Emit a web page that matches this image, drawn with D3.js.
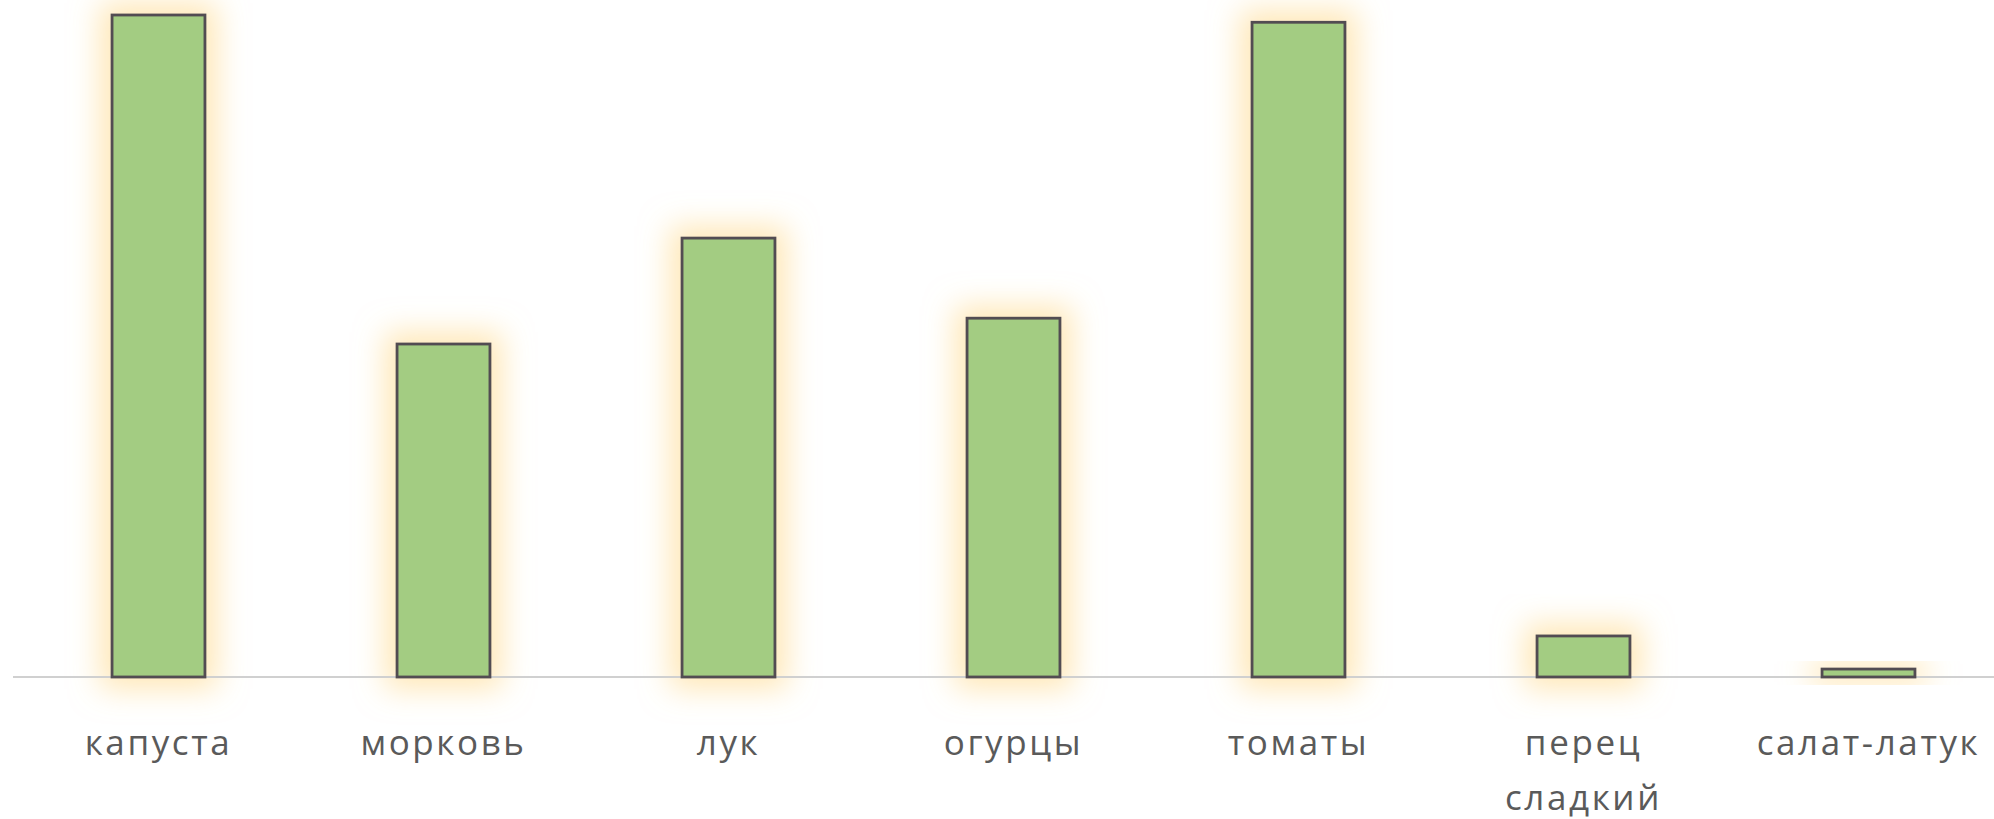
<!DOCTYPE html>
<html>
<head>
<meta charset="utf-8">
<script src="https://cdn.jsdelivr.net/npm/d3@7"></script>
<style>
  html, body { margin: 0; padding: 0; background: #fff; }
  svg { display: block; }
</style>
</head>
<body>
<svg id="chart" width="1994" height="819"></svg>
<script>
const categories = ["капуста", "морковь", "лук", "огурцы", "томаты", "перец сладкий", "салат-латук"];
const values = [100, 50.3, 66.3, 54.2, 98.9, 6.2, 1.2];

const W = 1994, H = 819;
const svg = d3.select("#chart");

const x = d3.scaleBand().domain(categories).range([16, 2011]).paddingInner(0.674).paddingOuter(0.337);
const y = d3.scaleLinear().domain([0, 100]).range([677, 15]);

const defs = svg.append("defs");
const f = defs.append("filter").attr("id", "glow")
  .attr("x", "-100%").attr("y", "-100%").attr("width", "300%").attr("height", "300%");
f.append("feMorphology").attr("in", "SourceAlpha").attr("operator", "dilate").attr("radius", 12).attr("result", "d");
f.append("feGaussianBlur").attr("in", "d").attr("stdDeviation", 15).attr("result", "b");
f.append("feFlood").attr("flood-color", "#ffdb90").attr("flood-opacity", 0.65).attr("result", "c");
f.append("feComposite").attr("in", "c").attr("in2", "b").attr("operator", "in");

const data = categories.map((c, i) => ({c, v: values[i]}));

// glow layer
svg.append("g").selectAll("rect").data(data).join("rect")
  .attr("x", d => x(d.c)).attr("y", d => y(d.v))
  .attr("width", x.bandwidth()).attr("height", d => y(0) - y(d.v))
  .attr("fill", "#000").attr("filter", "url(#glow)");

// axis baseline
const xAxis = d3.axisBottom(x).tickSize(0).tickFormat("");
const ax = svg.append("g").attr("transform", `translate(0,${y(0)})`).call(xAxis);
ax.select(".domain").attr("stroke", "#d0d0d0").attr("stroke-width", 2).attr("d", `M13,0H${W}`);

// bars
svg.append("g").selectAll("rect").data(data).join("rect")
  .attr("x", d => x(d.c)).attr("y", d => y(d.v))
  .attr("width", x.bandwidth()).attr("height", d => y(0) - y(d.v))
  .attr("fill", "#a3cc82").attr("stroke", "#524c52").attr("stroke-width", 2.8);

// labels
const lab = svg.append("g").selectAll("text").data(data).join("text")
  .attr("x", d => x(d.c) + x.bandwidth() / 2)
  .attr("y", 755)
  .attr("text-anchor", "middle")
  .attr("font-family", "'Open Sans', sans-serif")
  .attr("font-size", 35)
  .attr("letter-spacing", 2.6)
  .attr("fill", "#5a5a5a");
lab.each(function(d) {
  const words = d.c.split(" ");
  const t = d3.select(this);
  words.forEach((w, i) => {
    t.append("tspan").attr("x", x(d.c) + x.bandwidth() / 2).attr("dy", i === 0 ? 0 : 55).text(w);
  });
});
</script>
</body>
</html>
